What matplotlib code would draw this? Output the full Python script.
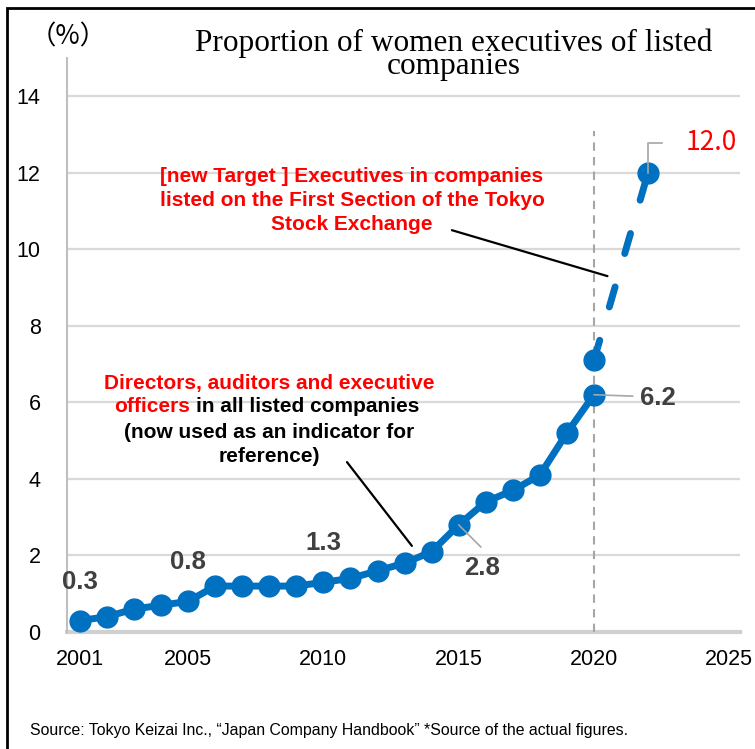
import matplotlib
matplotlib.use("Agg")
import matplotlib.pyplot as plt
from matplotlib.patches import Rectangle

# actual figures (all listed companies)
years = [2001, 2002, 2003, 2004, 2005, 2006, 2007, 2008, 2009, 2010,
         2011, 2012, 2013, 2014, 2015, 2016, 2017, 2018, 2019, 2020]
share = [0.3, 0.4, 0.6, 0.7, 0.8, 1.2, 1.2, 1.2, 1.2, 1.3,
         1.4, 1.6, 1.8, 2.1, 2.8, 3.4, 3.7, 4.1, 5.2, 6.2]

# new target (TSE first section)
target_years = [2020, 2022]
target_share = [7.1, 12.0]

xticks = [2001, 2005, 2010, 2015, 2020, 2025]
yticks = [0, 2, 4, 6, 8, 10, 12, 14]
labelled = {2001: "0.3", 2005: "0.8", 2010: "1.3"}

W, H = 755, 749
BLUE = "#0070C0"
DARK = "#404040"
plt.rcParams['font.family'] = ['Liberation Sans', 'DejaVu Sans']

fig = plt.figure(figsize=(W / 100, H / 100), dpi=100)
ax = fig.add_axes([67 / W, 117 / H, (740 - 67) / W, (632 - 58) / H])


def fx(px):
    return px / W


def fy(py):
    return 1 - py / H


ax.set_xlim(2000.52, 2025.4)
ax.set_ylim(0, 15)
ax.set_xticks(xticks)
ax.set_yticks(yticks)
ax.tick_params(length=0, labelsize=15.5, colors="black")
ax.tick_params(axis="y", pad=19)
ax.tick_params(axis="x", pad=12)
for s in ["top", "right", "bottom"]:
    ax.spines[s].set_visible(False)
ax.spines["left"].set_color("#BFBFBF")
ax.spines["left"].set_linewidth(1.5)
for v in yticks[1:]:
    ax.axhline(v, color="#D9D9D9", lw=1.6, zorder=0)
ax.axhline(0, color="#D0D0D0", lw=3, zorder=0, clip_on=False)

# 2020 reference line
ax.plot([2020, 2020], [0, 13.1], color="#A6A6A6", lw=1.5,
        dashes=(4, 3), zorder=1)

ax.plot(years, share, color=BLUE, lw=5, marker="o", ms=15, zorder=3)
tl, = ax.plot(target_years, target_share, color=BLUE, lw=5, zorder=3)
tl.set_dashes((15 / 5, 25 / 5))
tl.set_dash_capstyle("round")
ax.plot(target_years, target_share, ls="none", marker="o", ms=15,
        color=BLUE, zorder=4)

# value labels
for yr, txt in labelled.items():
    v = share[years.index(yr)]
    ax.annotate(txt, (yr, v), xytext=(0, 28), textcoords="offset points",
                ha="center", va="center", fontsize=18.5, fontweight="bold",
                color=DARK)

v15 = share[years.index(2015)]
ax.annotate("2.8", (2015, v15), xytext=(17, -31), textcoords="offset points",
            ha="center", va="center", fontsize=18.5, fontweight="bold",
            color=DARK)
ax.annotate("", (2015, v15), xytext=(16, -16), textcoords="offset points",
            arrowprops=dict(arrowstyle="-", color="#A6A6A6", lw=1.2,
                            shrinkA=0, shrinkB=0))
v20 = share[-1]
ax.annotate("6.2", (2020, v20), xytext=(33, -2), textcoords="offset points",
            ha="left", va="center", fontsize=18.5, fontweight="bold",
            color=DARK)
ax.annotate("", (2020, v20), xytext=(28, -1), textcoords="offset points",
            arrowprops=dict(arrowstyle="-", color="#A6A6A6", lw=1.2,
                            shrinkA=0, shrinkB=0))
ax.plot([target_years[1], target_years[1], target_years[1] + 0.5],
        [target_share[1], target_share[1] + 0.78, target_share[1] + 0.78],
        color="#A6A6A6", lw=1.2, zorder=5)
ax.annotate("12.0", (target_years[1], target_share[1]), xytext=(27, 22),
            textcoords="offset points", ha="left", va="center", fontsize=19,
            color="red", family=["Noto Sans CJK JP", "DejaVu Sans"])

# explanatory notes
fs = 15
for py, line in [(177, "[new Target ] Executives in companies"),
                 (200, "listed on the First Section of the Tokyo"),
                 (224, "Stock Exchange")]:
    fig.text(fx(352), fy(py), line, ha="center", va="center", fontsize=fs,
             fontweight="bold", color="red")
ax.annotate("", xy=(2020.5, 9.3), xytext=(2014.75, 10.5),
            arrowprops=dict(arrowstyle="-", color="black", lw=1.6,
                            shrinkA=0, shrinkB=0))

fig.text(fx(269), fy(383), "Directors, auditors and executive", ha="center",
         va="center", fontsize=fs, fontweight="bold", color="red")
fig.text(fx(190), fy(407), "officers", ha="right", va="center", fontsize=fs,
         fontweight="bold", color="red")
fig.text(fx(196), fy(407), "in all listed companies", ha="left",
         va="center", fontsize=fs, fontweight="bold", color="black")
fig.text(fx(269), fy(432), "(now used as an indicator for", ha="center",
         va="center", fontsize=fs, fontweight="bold", color="black")
fig.text(fx(269), fy(457), "reference)", ha="center", va="center",
         fontsize=fs, fontweight="bold", color="black")
ax.annotate("", xy=(2013.27, 2.25), xytext=(2010.87, 4.44),
            arrowprops=dict(arrowstyle="-", color="black", lw=1.6,
                            shrinkA=0, shrinkB=0))

# title and unit
fig.text(fx(454), fy(55), "Proportion of women executives of listed\n"
         "companies", ha="center", va="center", multialignment="center",
         fontsize=22.5, linespacing=0.74, family="Liberation Serif")
fig.text(fx(68), fy(37), "（%）", ha="center", va="center", fontsize=19,
         family=["Noto Sans CJK JP", "DejaVu Sans"])

fig.text(fx(30), fy(731), "Source: Tokyo Keizai Inc., \u201cJapan Company "
         "Handbook\u201d *Source of the actual figures.", ha="left",
         va="center", fontsize=11.4)

fig.patches.append(Rectangle((fx(7), -0.1), 1.2, 0.1 + fy(8), fill=False,
                             lw=2, edgecolor="black",
                             transform=fig.transFigure))

fig.savefig("out.png", dpi=100)
